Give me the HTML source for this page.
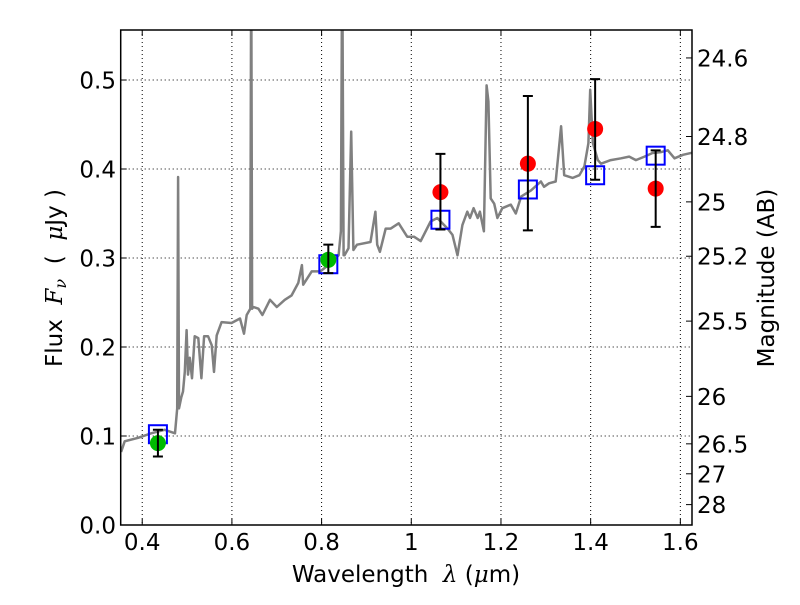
<!DOCTYPE html>
<html><head><meta charset="utf-8"><style>
body{margin:0;background:#fff}
svg text{font-family:"DejaVu Sans","Liberation Sans",sans-serif;fill:#000;white-space:pre}
</style></head><body>
<svg id="c" width="800" height="600" viewBox="0 0 800 600" xmlns="http://www.w3.org/2000/svg">
<rect width="800" height="600" fill="#fff"/>
<defs><clipPath id="cp"><rect x="120.7" y="30" width="571.3" height="495"/></clipPath></defs>
<g id="grid"></g><g id="spec"></g><g id="marks"></g><g id="axes"></g>
<text x="406" y="582" font-size="23" text-anchor="middle">Wavelength&#160;&#160;<tspan font-style="italic" font-family="DejaVu Serif">λ</tspan> (<tspan font-style="italic" font-family="DejaVu Serif">μ</tspan>m)</text>
<text transform="translate(62,278) rotate(-90)" font-size="23" text-anchor="middle">Flux&#160;&#160;<tspan font-style="italic" font-family="DejaVu Serif">F</tspan><tspan font-style="italic" font-family="DejaVu Serif" font-size="16" dy="4">ν</tspan><tspan dy="-4">&#160;&#160;(&#160;&#160;</tspan><tspan font-style="italic" font-family="DejaVu Serif">μ</tspan>Jy )</text>
<text transform="translate(774,278) rotate(-90)" font-size="23" text-anchor="middle">Magnitude (AB)</text>
</svg>
<script>
const specLam=[0.353,0.361,0.391,0.420,0.450,0.473,0.478,0.480,0.482,0.487,0.491,0.495,0.499,0.502,0.506,0.511,0.517,0.525,0.532,0.538,0.547,0.555,0.560,0.566,0.577,0.599,0.618,0.627,0.633,0.641,0.643,0.645,0.648,0.659,0.668,0.685,0.700,0.718,0.733,0.748,0.756,0.759,0.778,0.797,0.815,0.838,0.843,0.846,0.849,0.851,0.860,0.866,0.871,0.879,0.909,0.920,0.924,0.930,0.943,0.954,0.972,0.991,1.006,1.021,1.043,1.058,1.081,1.092,1.103,1.114,1.125,1.131,1.139,1.148,1.153,1.162,1.168,1.172,1.177,1.185,1.192,1.203,1.222,1.233,1.245,1.267,1.289,1.296,1.307,1.322,1.334,1.341,1.360,1.375,1.386,1.395,1.399,1.405,1.416,1.423,1.445,1.468,1.486,1.501,1.520,1.538,1.557,1.572,1.587,1.606,1.632];
const specFlux=[0.082,0.094,0.098,0.103,0.107,0.103,0.131,0.391,0.131,0.143,0.150,0.172,0.219,0.169,0.188,0.165,0.212,0.210,0.165,0.212,0.212,0.202,0.172,0.213,0.228,0.227,0.232,0.215,0.236,0.243,0.65,0.243,0.245,0.243,0.236,0.253,0.245,0.253,0.258,0.272,0.292,0.270,0.285,0.285,0.292,0.303,0.33,0.65,0.303,0.303,0.311,0.442,0.309,0.315,0.318,0.352,0.315,0.307,0.333,0.333,0.339,0.324,0.324,0.319,0.341,0.345,0.333,0.326,0.303,0.337,0.352,0.345,0.356,0.345,0.352,0.330,0.494,0.476,0.367,0.361,0.345,0.356,0.360,0.350,0.369,0.376,0.386,0.380,0.384,0.386,0.448,0.393,0.390,0.393,0.403,0.429,0.489,0.429,0.410,0.406,0.410,0.412,0.414,0.410,0.414,0.418,0.419,0.421,0.412,0.416,0.419];
const photLam=[0.435,0.815,1.065,1.26,1.41,1.545];
const photFlux=[0.092,0.298,0.374,0.406,0.445,0.378];
const photLo=[0.077,0.283,0.332,0.331,0.388,0.335];
const photHi=[0.107,0.315,0.417,0.482,0.501,0.421];
const photColor=["green","green","red","red","red","red"];
const modelFlux=[0.102,0.293,0.343,0.377,0.393,0.415];
const xTicks=[0.4,0.6,0.8,1.0,1.2,1.4,1.6];
const xTickLabels=["0.4","0.6","0.8","1","1.2","1.4","1.6"];
const yTicks=[0,0.1,0.2,0.3,0.4,0.5];
const yTickLabels=["0.0","0.1","0.2","0.3","0.4","0.5"];
const magTicks=[24.6,24.8,25,25.2,25.5,26,26.5,27,28];
const magTickLabels=["24.6","24.8","25","25.2","25.5","26","26.5","27","28"];

const L=120.7,R=692,T=30,B=525,X0=0.352,X1=1.626,Y0=0,Y1=0.5562;
const sx=v=>L+(v-X0)/(X1-X0)*(R-L);
const sy=v=>B-(v-Y0)/(Y1-Y0)*(B-T);
const NS="http://www.w3.org/2000/svg";
function mk(par,tag,at){const e=document.createElementNS(NS,tag);for(const k in at)e.setAttribute(k,at[k]);document.getElementById(par).appendChild(e);return e;}

xTicks.forEach(t=>{const e=mk('grid','line',{x1:sx(t),x2:sx(t),y1:T,y2:B,stroke:'#000','stroke-width':1,'stroke-dasharray':'1,3'});

});
yTicks.forEach(t=>{const e=mk('grid','line',{x1:L,x2:R,y1:sy(t),y2:sy(t),stroke:'#000','stroke-width':1,'stroke-dasharray':'1,3'});

});

const sp=mk('spec','path',{d:specLam.map((l,i)=>(i?'L':'M')+sx(l).toFixed(1)+','+sy(specFlux[i]).toFixed(1)).join(''),fill:'none',stroke:'#808080','stroke-width':2.5,'stroke-linejoin':'round','clip-path':'url(#cp)'});



photLam.forEach((l,i)=>{
 const x=sx(l);
 const sq=mk('marks','rect',{x:x-9,y:sy(modelFlux[i])-9,width:18,height:18,fill:'none',stroke:'#0000ff','stroke-width':2});
 
 
 const c=mk('marks','circle',{cx:x,cy:sy(photFlux[i]),r:8,fill:photColor[i]=='green'?'#00bb00':'#ff0000'});
 
 
 const eb=mk('marks','path',{d:`M${x},${sy(photLo[i])}V${sy(photHi[i])}M${x-5},${sy(photLo[i])}h10M${x-5},${sy(photHi[i])}h10`,stroke:'#000','stroke-width':2,fill:'none'});
 
 
});

const fr=mk('axes','rect',{x:L,y:T,width:R-L,height:B-T,fill:'none',stroke:'#000','stroke-width':1.5});


xTicks.forEach((t,i)=>{
 mk('axes','path',{d:`M${sx(t)},${B}v-6M${sx(t)},${T}v6`,stroke:'#000'});
 const e=mk('axes','text',{x:sx(t),y:550,'font-size':23,'text-anchor':'middle'});e.textContent=xTickLabels[i];
 
 
});
yTicks.forEach((t,i)=>{
 mk('axes','path',{d:`M${L},${sy(t)}h6`,stroke:'#000'});
 const e=mk('axes','text',{x:116,y:sy(t)+8.5,'font-size':23,'text-anchor':'end'});e.textContent=yTickLabels[i];
 
 
});
magTicks.forEach((m,i)=>{
 const y=sy(Math.pow(10,(23.9-m)/2.5));
 mk('axes','path',{d:`M${R},${y}h-6`,stroke:'#000'});
 const e=mk('axes','text',{x:697,y:y+8.5,'font-size':23});e.textContent=magTickLabels[i];
 
 
});
</script>
</body></html>
